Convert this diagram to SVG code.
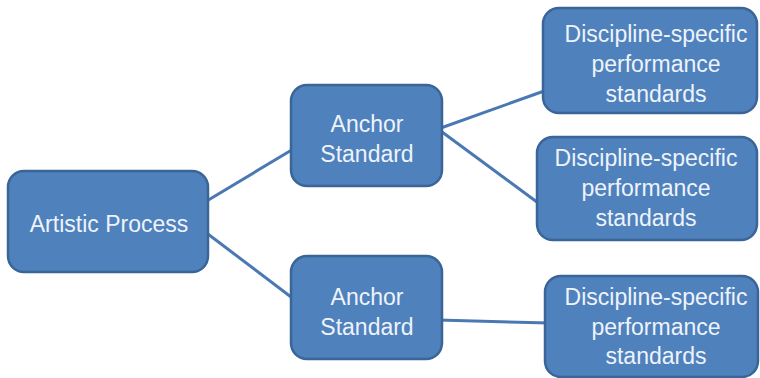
<svg xmlns="http://www.w3.org/2000/svg" width="760" height="378" viewBox="0 0 760 378">
<style>
.box{fill:#4F81BD;stroke:#3A6598;stroke-width:2.5}
.t{font-family:"Liberation Sans",Arial,sans-serif;font-size:23px;fill:#EEF3FA;text-anchor:middle}
.c{stroke:#4A78B2;stroke-width:3;fill:none}
</style>
<rect width="760" height="378" fill="#FFFFFF"/>
<g id="connectors">
<line class="c" x1="200" y1="205" x2="295" y2="148"/>
<line class="c" x1="200" y1="228" x2="295" y2="300"/>
<line class="c" x1="438" y1="129" x2="547" y2="90"/>
<line class="c" x1="438" y1="129" x2="541" y2="205"/>
<line class="c" x1="438" y1="320" x2="549" y2="323"/>
</g>
<g id="artistic-process">
<rect class="box" x="8" y="171" width="200" height="101" rx="16"/>
<text class="t" x="109" y="232">Artistic Process</text>
</g>
<g id="anchor-standard-1">
<rect class="box" x="291" y="85" width="151" height="101" rx="16"/>
<text class="t" x="367" y="132">Anchor</text>
<text class="t" x="367" y="162">Standard</text>
</g>
<g id="anchor-standard-2">
<rect class="box" x="291" y="256" width="151" height="103" rx="16"/>
<text class="t" x="367" y="305">Anchor</text>
<text class="t" x="367" y="335">Standard</text>
</g>
<g id="discipline-1">
<rect class="box" x="543" y="8" width="214" height="105" rx="16"/>
<text class="t" x="656" y="42">Discipline-specific</text>
<text class="t" x="656" y="72">performance</text>
<text class="t" x="656" y="102">standards</text>
</g>
<g id="discipline-2">
<rect class="box" x="537" y="137" width="220" height="103" rx="16"/>
<text class="t" x="646" y="166">Discipline-specific</text>
<text class="t" x="646" y="196">performance</text>
<text class="t" x="646" y="226">standards</text>
</g>
<g id="discipline-3">
<rect class="box" x="545" y="276" width="213" height="101" rx="16"/>
<text class="t" x="656" y="305">Discipline-specific</text>
<text class="t" x="656" y="335">performance</text>
<text class="t" x="656" y="364">standards</text>
</g>
</svg>
